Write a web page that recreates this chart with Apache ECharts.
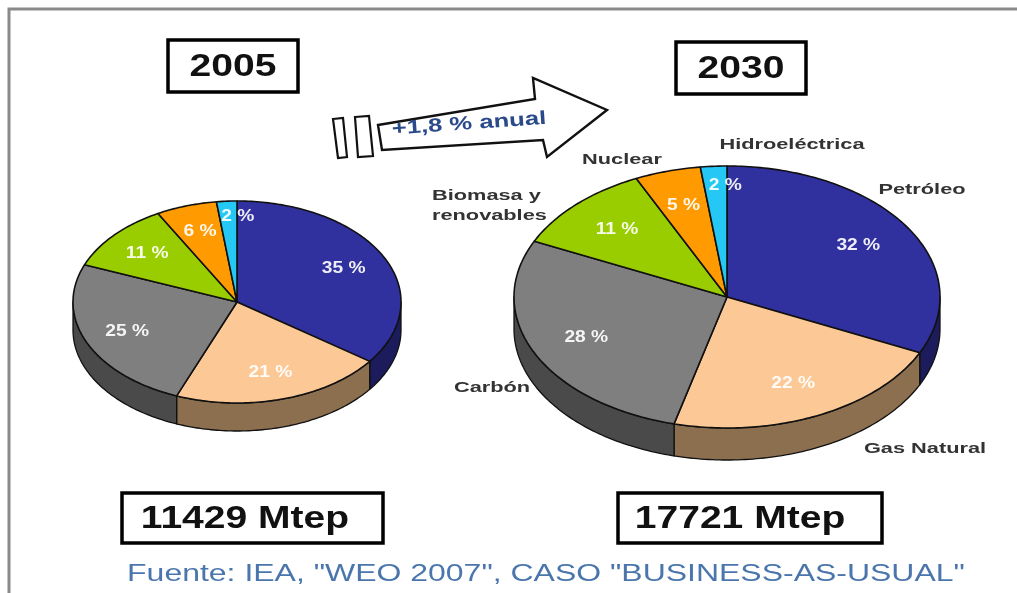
<!DOCTYPE html>
<html><head><meta charset="utf-8">
<script src="https://cdn.jsdelivr.net/npm/echarts@6/dist/echarts.min.js"></script>
<style>html,body{margin:0;padding:0;background:#fff}#c{width:1017px;height:593px}</style>
</head><body><div id="c"></div>
<script>
// ---- data ----
const categories = ['Petróleo', 'Gas Natural', 'Carbón', 'Biomasa y renovables', 'Nuclear', 'Hidroeléctrica'];
const share2005 = [35, 21, 25, 11, 6, 2];
const share2030 = [32, 22, 28, 11, 5, 2];
const years = ['2005', '2030'];
const totals = ['11429 Mtep', '17721 Mtep'];
const growthText = '+1,8 % anual';
const sourceText = 'Fuente: IEA, "WEO 2007", CASO "BUSINESS-AS-USUAL"';

// ---- styles ----
const topColors = ['#30309f', '#fcc996', '#7f7f7f', '#9acd00', '#ff9a00', '#25c8f5'];
const sideColors = ['#1c1c5c', '#8b6f4e', '#4a4a4a', '#5f7f00', '#b06a00', '#1a8cad'];

function pie3d(values, cx, cy, rx, ry, depth) {
  const total = values.reduce((a, b) => a + b, 0);
  const starts = [];
  let acc = 0;
  values.forEach(v => { starts.push(acc / total * 360); acc += v; });
  const pt = (deg, k, dy) => {
    const r = deg * Math.PI / 180;
    return [cx + rx * k * Math.sin(r), cy - ry * k * Math.cos(r) + (dy || 0)];
  };
  return {
    type: 'custom',
    coordinateSystem: 'none',
    silent: true,
    data: values.map((v, i) => ({ value: [v], name: categories[i] })),
    renderItem(params, api) {
      const i = params.dataIndex;
      const v = api.value(0);
      const a = starts[i], b = a + v / total * 360;
      const children = [];
      const sa = Math.max(a, 90), sb = Math.min(b, 270);
      if (sb > sa) {
        const pts = [];
        for (let d = sa; d < sb; d += 1) pts.push(pt(d, 1));
        pts.push(pt(sb, 1));
        pts.push(pt(sb, 1, depth));
        for (let d = Math.floor(sb); d > sa; d -= 1) pts.push(pt(d, 1, depth));
        pts.push(pt(sa, 1, depth));
        children.push({ type: 'polygon', shape: { points: pts },
          style: { fill: sideColors[i], stroke: '#111', lineWidth: 1.3, lineJoin: 'round' } });
      }
      const top = [[cx, cy]];
      for (let d = a; d < b; d += 1) top.push(pt(d, 1));
      top.push(pt(b, 1));
      children.push({ type: 'polygon', shape: { points: top },
        style: { fill: topColors[i], stroke: '#111', lineWidth: 1.6, lineJoin: 'round' } });
      const m = (a + b) / 2;
      const small = v < 4;
      const lp = pt(m, small ? 0.85 : 0.73);
      children.push({ type: 'text', x: small ? lp[0] - 7 : lp[0], y: lp[1], z2: 50, scaleX: 1.2,
        style: { text: v + ' %', fill: '#ffffff', font: 'bold 16px "Liberation Sans", Arial, sans-serif',
          align: small ? 'left' : 'center', verticalAlign: 'middle', opacity: 0.92 } });
      return { type: 'group', children };
    }
  };
}

const txt = (text, x, y, font, fill, sx, extra) => Object.assign({
  type: 'text', x, y, scaleX: sx || 1,
  style: { text, font, fill, align: 'center', verticalAlign: 'middle' }
}, extra || {});
const box = (x, y, w, h) => ({ type: 'rect', shape: { x, y, width: w, height: h },
  style: { fill: '#fff', stroke: '#000', lineWidth: 3.5 } });

const boldF = s => 'bold ' + s + 'px "Liberation Sans", Arial, sans-serif';
const lblColor = '#333333';

const option = {
  backgroundColor: '#ffffff',
  animation: false,
  series: [
    pie3d(share2005, 237, 302, 164, 101, 28),
    pie3d(share2030, 727, 297, 213, 131, 32)
  ],
  graphic: [
    { type: 'polyline', shape: { points: [[9, 593], [9, 9], [1017, 9]] },
      style: { stroke: '#8a8a8a', lineWidth: 3, fill: null } },
    box(168, 40, 130, 52),
    txt(years[0], 233, 67, boldF(32), '#111', 1.22),
    box(676, 42, 130, 52),
    txt(years[1], 741, 69, boldF(32), '#111', 1.22),
    box(122, 493, 261, 50),
    txt(totals[0], 245, 519, boldF(32), '#111', 1.22),
    box(618, 493, 264, 50),
    txt(totals[1], 740, 519, boldF(32), '#111', 1.22),
    txt(sourceText, 546, 575, '23px "Liberation Sans", Arial, sans-serif', '#4a76ad', 1.39),
    // arrow
    { type: 'polygon', shape: { points: [[333, 119], [343, 118], [347, 157], [338, 158]] },
      style: { fill: '#fff', stroke: '#111', lineWidth: 2.2 } },
    { type: 'polygon', shape: { points: [[355, 117], [369, 116], [373, 156], [358, 157]] },
      style: { fill: '#fff', stroke: '#111', lineWidth: 2.2 } },
    { type: 'polygon', shape: { points: [[378, 125], [535, 99], [533, 78], [607, 110], [547, 157], [543, 140], [382, 150]] },
      style: { fill: '#fff', stroke: '#111', lineWidth: 2.4, lineJoin: 'miter' } },
    txt(growthText, 469, 124, boldF(19), '#2a4a8a', 1.35, { rotation: 0.07 }),
    // outer labels (2030)
    txt(categories[0], 922, 190, boldF(15), lblColor, 1.45),
    txt(categories[1], 925, 449, boldF(15), lblColor, 1.45),
    txt(categories[2], 492, 388, boldF(15), lblColor, 1.45),
    { type: 'text', x: 432, y: 206, scaleX: 1.45,
      style: { text: 'Biomasa y\nrenovables', font: boldF(15), fill: lblColor, align: 'left',
        verticalAlign: 'middle', lineHeight: 20 } },
    txt(categories[4], 622, 160, boldF(15), lblColor, 1.45),
    txt(categories[5], 792, 145, boldF(15), lblColor, 1.45)
  ]
};

const chart = echarts.init(document.getElementById('c'), null, { renderer: 'canvas' });
chart.setOption(option);
</script>
</body></html>
